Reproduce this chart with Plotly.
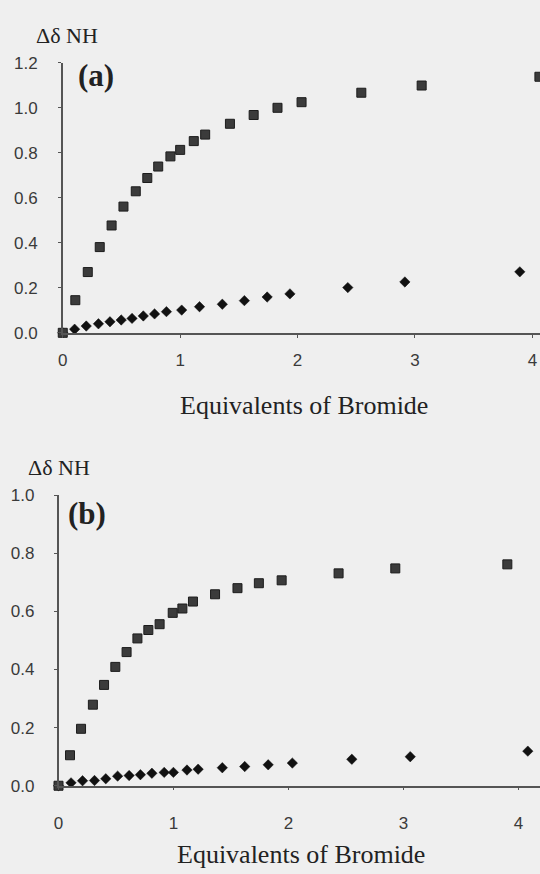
import plotly.graph_objects as go

# Panel (a): NH chemical shift change vs. equivalents of bromide
eq_a_sq = [0, 0.107, 0.213, 0.315, 0.416, 0.517, 0.622, 0.72, 0.813, 0.917, 1.0,
           1.116, 1.213, 1.424, 1.626, 1.829, 2.034, 2.543, 3.057, 4.06]
dd_a_sq = [0, 0.145, 0.27, 0.381, 0.477, 0.561, 0.629, 0.688, 0.739, 0.784, 0.813,
           0.852, 0.881, 0.929, 0.968, 1.0, 1.025, 1.067, 1.099, 1.138]
eq_a_di = [0, 0.101, 0.2, 0.304, 0.402, 0.498, 0.59, 0.686, 0.782, 0.883, 1.013,
           1.165, 1.359, 1.547, 1.741, 1.935, 2.428, 2.914, 3.893]
dd_a_di = [0, 0.016, 0.03, 0.04, 0.049, 0.057, 0.064, 0.075, 0.084, 0.094, 0.101,
           0.116, 0.127, 0.143, 0.159, 0.173, 0.201, 0.226, 0.271]

# Panel (b)
eq_b_sq = [0, 0.1, 0.196, 0.299, 0.396, 0.494, 0.592, 0.686, 0.781, 0.879, 0.993,
           1.077, 1.169, 1.361, 1.556, 1.742, 1.94, 2.435, 2.928, 3.902]
dd_b_sq = [0, 0.105, 0.196, 0.279, 0.347, 0.409, 0.46, 0.507, 0.536, 0.556, 0.595,
           0.61, 0.634, 0.659, 0.68, 0.697, 0.707, 0.731, 0.748, 0.762]
eq_b_di = [0, 0.109, 0.209, 0.313, 0.411, 0.514, 0.614, 0.712, 0.812, 0.919, 0.999,
           1.117, 1.214, 1.424, 1.619, 1.823, 2.033, 2.55, 3.058, 4.08]
dd_b_di = [0, 0.01, 0.017, 0.018, 0.024, 0.033, 0.035, 0.038, 0.043, 0.046, 0.046,
           0.054, 0.057, 0.062, 0.066, 0.072, 0.078, 0.091, 0.1, 0.119]

x_ticks = [0, 1, 2, 3, 4]
y_ticks_a = [0.0, 0.2, 0.4, 0.6, 0.8, 1.0, 1.2]
y_ticks_b = [0.0, 0.2, 0.4, 0.6, 0.8, 1.0]
x_title = "Equivalents of Bromide"
y_title = "Δδ NH"

W, H = 540, 874
BG = "#efefef"
SERIF = "Liberation Serif, Times New Roman, serif"
SANS = "Liberation Sans, Arial, sans-serif"


def px_x(p):
    return p / W


def px_y(p):
    return 1 - p / H


sq_marker = dict(symbol="square", size=9, color="#3b3b3b",
                 line=dict(color="#1c1c1c", width=1))
di_marker = dict(symbol="diamond", size=8, color="#111111",
                 line=dict(color="#111111", width=0.5))

fig = go.Figure()
fig.add_trace(go.Scatter(x=eq_a_di, y=dd_a_di, mode="markers", marker=di_marker,
                         xaxis="x", yaxis="y", cliponaxis=False))
fig.add_trace(go.Scatter(x=eq_a_sq, y=dd_a_sq, mode="markers", marker=sq_marker,
                         xaxis="x", yaxis="y", cliponaxis=False))
fig.add_trace(go.Scatter(x=eq_b_di, y=dd_b_di, mode="markers", marker=di_marker,
                         xaxis="x2", yaxis="y2", cliponaxis=False))
fig.add_trace(go.Scatter(x=eq_b_sq, y=dd_b_sq, mode="markers", marker=sq_marker,
                         xaxis="x2", yaxis="y2", cliponaxis=False))

axis_common = dict(showgrid=False, zeroline=False, showline=True,
                   linecolor="#555555", linewidth=1.5, ticks="outside",
                   ticklen=3, tickwidth=1, tickcolor="#555555",
                   tickfont=dict(family=SANS, size=17, color="#3a3a3a"))

# top panel geometry (pixels)
a_x0, a_sx = 58.3, 118.5
a_y0, a_ytop = 331, 55
# bottom panel geometry
b_x0, b_sx = 54, 116.1
b_y0, b_ytop = 794, 497

fig.update_layout(
    width=W, height=H, margin=dict(l=0, r=0, t=0, b=0),
    paper_bgcolor=BG, plot_bgcolor=BG, showlegend=False,
    xaxis=dict(domain=[px_x(a_x0), 1], range=[0, (W - a_x0) / a_sx],
               tickvals=x_ticks, ticktext=[str(v) for v in x_ticks],
               anchor="y", ticklabelstandoff=8, **axis_common),
    yaxis=dict(domain=[px_y(a_y0), px_y(a_ytop)], range=[0, 1.2],
               tickvals=y_ticks_a, ticktext=[f"{v:.1f}" for v in y_ticks_a],
               anchor="x", ticklabelstandoff=17, **axis_common),
    xaxis2=dict(domain=[px_x(b_x0), 1], range=[0, (W - b_x0) / b_sx],
                tickvals=x_ticks, ticktext=[str(v) for v in x_ticks],
                anchor="y2", ticklabelstandoff=18, **axis_common),
    yaxis2=dict(domain=[px_y(b_y0), px_y(b_ytop)], range=[0, 1.0],
                tickvals=y_ticks_b, ticktext=[f"{v:.1f}" for v in y_ticks_b],
                anchor="x2", ticklabelstandoff=16, **axis_common),
)

annos = [
    # panel (a)
    dict(text=y_title, x=px_x(63), y=px_y(27), font=dict(family=SERIF, size=22, color="#222")),
    dict(text="<b>(a)</b>", x=px_x(92), y=px_y(68), font=dict(family=SERIF, size=31, color="#222")),
    dict(text=x_title, x=px_x(302), y=px_y(405), font=dict(family=SERIF, size=26, color="#222")),
    # panel (b)
    dict(text=y_title, x=px_x(54), y=px_y(469), font=dict(family=SERIF, size=22, color="#222")),
    dict(text="<b>(b)</b>", x=px_x(83), y=px_y(516), font=dict(family=SERIF, size=31, color="#222")),
    dict(text=x_title, x=px_x(299), y=px_y(864), font=dict(family=SERIF, size=26, color="#222")),
]
for a in annos:
    fig.add_annotation(xref="paper", yref="paper", showarrow=False,
                       xanchor="center", yanchor="middle", **a)

fig.write_html("out.html")
